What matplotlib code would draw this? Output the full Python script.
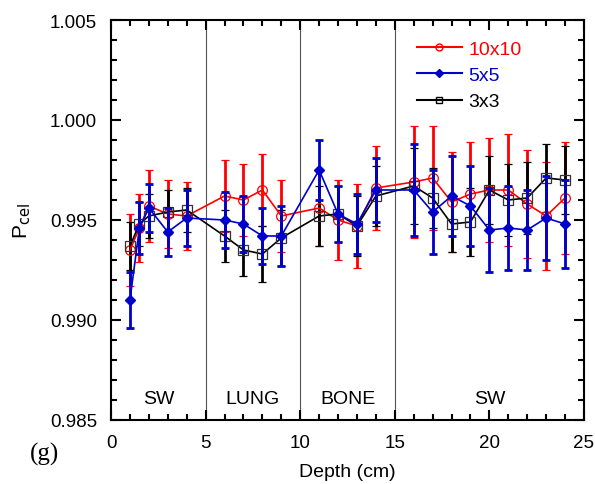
import matplotlib
matplotlib.use("Agg")
import matplotlib.pyplot as plt
from matplotlib.ticker import MultipleLocator, FormatStrFormatter
from matplotlib.lines import Line2D

plt.rcParams['font.family'] = ['Liberation Sans', 'DejaVu Sans']

# Depth positions (cm)
depth = [1, 1.5, 2, 3, 4, 6, 7, 8, 9, 11, 12, 13, 14, 16, 17, 18, 19, 20, 21, 22, 23, 24]

# 10x10 field
p10 = [0.9935, 0.9946, 0.9957, 0.9953, 0.9952, 0.9962, 0.9960, 0.9965, 0.9952, 0.9956, 0.9950,
       0.9947, 0.9966, 0.9969, 0.9971, 0.9959, 0.9963, 0.9965, 0.9965, 0.9958, 0.9952, 0.9961]
e10 = [0.0018, 0.0017, 0.0018, 0.0017, 0.0017, 0.0018, 0.0018, 0.0018, 0.0018, 0.0019, 0.0020,
       0.0021, 0.0021, 0.0028, 0.0026, 0.0025, 0.0026, 0.0026, 0.0028, 0.0027, 0.0027, 0.0028]

# 5x5 field
p5 = [0.9910, 0.9946, 0.9956, 0.9944, 0.9951, 0.9950, 0.9948, 0.9942, 0.9942, 0.9975, 0.9953,
      0.9948, 0.9965, 0.9965, 0.9954, 0.9962, 0.9957, 0.9945, 0.9946, 0.9945, 0.9951, 0.9948]
e5 = [0.0014, 0.0013, 0.0012, 0.0012, 0.0014, 0.0014, 0.0014, 0.0014, 0.0015, 0.0015, 0.0014,
      0.0015, 0.0016, 0.0023, 0.0021, 0.0020, 0.0020, 0.0021, 0.0021, 0.0020, 0.0021, 0.0022]

# 3x3 field
p3 = [0.9937, 0.9948, 0.9952, 0.9954, 0.9955, 0.9942, 0.9935, 0.9933, 0.9941, 0.9952, 0.9953,
      0.9947, 0.9962, 0.9967, 0.9961, 0.9948, 0.9949, 0.9965, 0.9960, 0.9961, 0.9971, 0.9970]
e3 = [0.0012, 0.0011, 0.0011, 0.0011, 0.0011, 0.0013, 0.0013, 0.0014, 0.0014, 0.0015, 0.0014,
      0.0015, 0.0015, 0.0019, 0.0015, 0.0014, 0.0017, 0.0017, 0.0018, 0.0018, 0.0017, 0.0017]

# Tissue regions
region_names = ['SW', 'LUNG', 'BONE', 'SW']
region_centres = [2.5, 7.5, 12.5, 20]
region_edges = [5, 10, 15]

fig = plt.figure(figsize=(5.95, 4.85), dpi=100)
ax = fig.add_axes([0.1866, 0.132, 0.7949, 0.8247])

for edge in region_edges:
    ax.axvline(edge, color='#555555', lw=0.8, zorder=1)

red = '#ff0000'
blue = '#0000cc'

ax.errorbar(depth, p10, yerr=e10, color=red, marker='o', mfc='none', mec=red, ms=7, mew=0.9,
            lw=1.2, elinewidth=2, capsize=3, capthick=2, zorder=3)
ax.errorbar(depth, p5, yerr=e5, color=blue, marker='D', mfc=blue, mec=blue, ms=5.5,
            lw=1.2, elinewidth=2, capsize=3, capthick=2, zorder=4)
ax.errorbar(depth, p3, yerr=e3, color='black', marker='s', mfc='none', mec='#333333', ms=7, mew=0.9,
            lw=1.2, elinewidth=2, capsize=3, capthick=2, zorder=3)

for name, xc in zip(region_names, region_centres):
    ax.text(xc, 0.98605, name, ha='center', va='center', fontsize=14)

ax.set_xlim(0, 25)
ax.set_ylim(0.985, 1.005)
ax.xaxis.set_major_locator(MultipleLocator(5))
ax.xaxis.set_minor_locator(MultipleLocator(1))
ax.yaxis.set_major_locator(MultipleLocator(0.005))
ax.yaxis.set_minor_locator(MultipleLocator(0.001))
ax.yaxis.set_major_formatter(FormatStrFormatter('%.3f'))
ax.tick_params(which='both', direction='in', top=True, right=True, width=1.5, labelsize=13.5)
ax.tick_params(which='major', length=7)
ax.tick_params(which='minor', length=4)
ax.tick_params(axis='x', pad=10)
ax.tick_params(axis='y', pad=10)
for sp in ax.spines.values():
    sp.set_linewidth(1.5)

ax.set_xlabel('Depth (cm)', fontsize=14, labelpad=9)
ax.set_ylabel(r'P$_{\mathrm{cel}}$', fontsize=15, labelpad=12)

handles = [
    Line2D([], [], color=red, marker='o', mfc='none', mec=red, ms=5, lw=1.5),
    Line2D([], [], color=blue, marker='D', mfc=blue, mec=blue, ms=4, lw=1.5),
    Line2D([], [], color='black', marker='s', mfc='none', mec='black', ms=5, lw=1.5),
]
leg = ax.legend(handles, ['10x10', '5x5', '3x3'], loc='upper left', bbox_to_anchor=(0.647, 0.95),
                frameon=False, fontsize=14, borderpad=0, borderaxespad=0,
                handlelength=2.3, handletextpad=0.35, labelspacing=0.45)
for text, col in zip(leg.get_texts(), [red, blue, 'black']):
    text.set_color(col)

fig.text(0.05, 0.062, '(g)', family='Liberation Serif', fontsize=18, ha='left', va='center')

fig.savefig('out.png', dpi=100)
